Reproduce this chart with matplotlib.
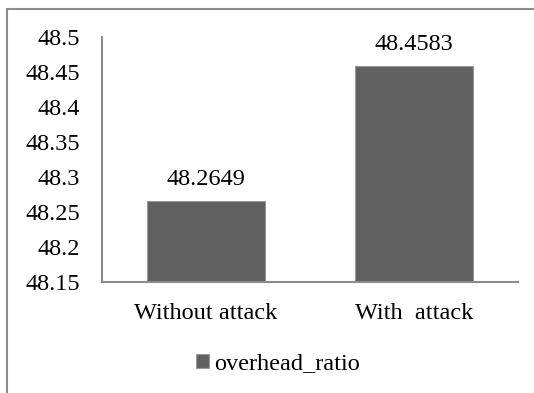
import matplotlib
matplotlib.use("Agg")
import matplotlib.pyplot as plt
from matplotlib.patches import Rectangle

categories = ["Without attack", "With  attack"]
values = [48.2649, 48.4583]
labels = ["48.2649", "48.4583"]
yticks = [48.15, 48.2, 48.25, 48.3, 48.35, 48.4, 48.45, 48.5]
ytick_labels = ["48.15", "48.2", "48.25", "48.3", "48.35", "48.4", "48.45", "48.5"]
series_name = "overhead_ratio"

plt.rcParams["font.family"] = ["Liberation Serif", "DejaVu Serif"]

W, H = 534, 393
fig = plt.figure(figsize=(W / 100, H / 100), dpi=100)

# chart area frame (cut off at right and bottom like the source)
frame = Rectangle((7 / W, -0.2), 1.2, (H - 9) / H + 0.2, transform=fig.transFigure,
                  fill=False, edgecolor="#8c8c8c", linewidth=1.5)
fig.patches.append(frame)

ax = fig.add_axes([102 / W, (H - 281.7) / H, 416 / W, (281.7 - 37) / H])
x = range(len(categories))
bars = ax.bar(x, values, width=0.57, color="#606060", edgecolor="#9a9a9a",
              linewidth=0.8, label=series_name)
ax.bar_label(bars, labels=labels, padding=8, fontsize=17.5)

ax.set_xlim(-0.5, 1.5)
ax.set_ylim(48.15, 48.5)
ax.set_yticks(yticks)
ax.set_yticklabels(ytick_labels)
ax.set_xticks(list(x))
ax.set_xticklabels(categories)
ax.tick_params(axis="y", length=0, pad=16, labelsize=17.5)
ax.tick_params(axis="x", length=0, pad=15, labelsize=17.5)

for side in ["top", "right"]:
    ax.spines[side].set_visible(False)
for side in ["left", "bottom"]:
    ax.spines[side].set_color("#8c8c8c")
    ax.spines[side].set_linewidth(1.5)

fig.legend(loc="center", bbox_to_anchor=(278 / W, 1 - 364 / H), frameon=False,
           fontsize=17.5, handlelength=0.55, handleheight=0.55, handletextpad=0.2)

fig.savefig("out.png", dpi=100)
